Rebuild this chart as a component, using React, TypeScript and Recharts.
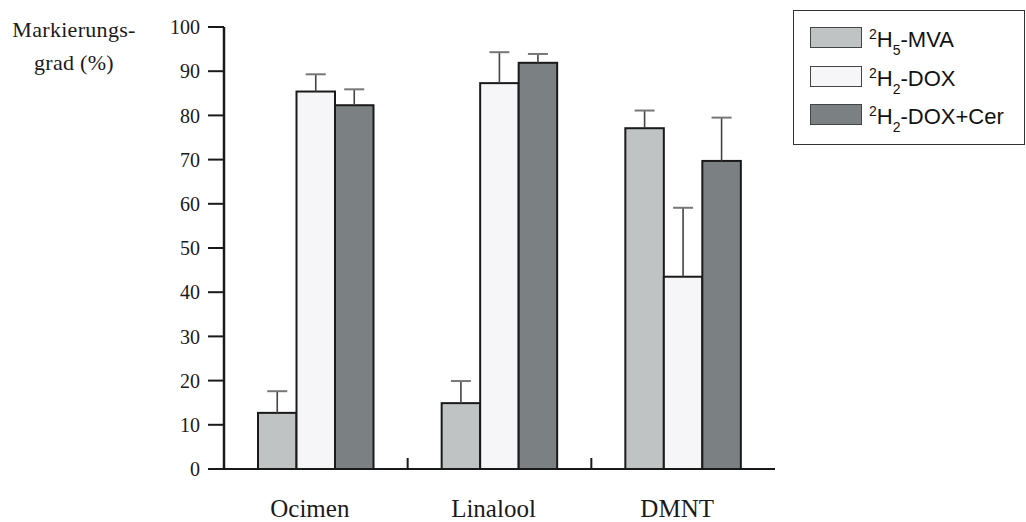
import { BarChart, Bar, XAxis, YAxis, Legend } from 'recharts';

const categories = ['Ocimen', 'Linalool', 'DMNT'];
const mvaValues = [12.7, 14.9, 77.1];
const mvaErrors = [4.9, 5.0, 4.0];
const doxValues = [85.4, 87.3, 43.5];
const doxErrors = [3.9, 7.0, 15.6];
const doxCerValues = [82.3, 91.9, 69.7];
const doxCerErrors = [3.6, 2.0, 9.8];
const yTicks = [0, 10, 20, 30, 40, 50, 60, 70, 80, 90, 100];

const series = [
  { key: 'mva', errKey: 'mvaErr', sup: '2', sub: '5', rest: '-MVA', fill: '#c0c3c4' },
  { key: 'dox', errKey: 'doxErr', sup: '2', sub: '2', rest: '-DOX', fill: '#f6f6f8' },
  { key: 'doxCer', errKey: 'doxCerErr', sup: '2', sub: '2', rest: '-DOX+Cer', fill: '#7b8183' },
];

const data = categories.map((name, i) => ({
  name,
  mva: mvaValues[i],
  mvaErr: mvaErrors[i],
  dox: doxValues[i],
  doxErr: doxErrors[i],
  doxCer: doxCerValues[i],
  doxCerErr: doxCerErrors[i],
}));

const SERIF = '"Liberation Serif", "Times New Roman", serif';
const SANS = '"Liberation Sans", Arial, sans-serif';

// bar with a one-sided (upward) error whisker
function BarWithError(props: any) {
  const { x, y, width, height, fill, payload, dataKey, errKey } = props;
  const value = payload[dataKey];
  const pxPerUnit = value ? height / value : 0;
  const errPx = payload[errKey] * pxPerUnit;
  const cx = x + width / 2;
  return (
    <g>
      <rect x={x} y={y} width={width} height={height} fill={fill} stroke="#1a1a1a" strokeWidth={2} />
      <line x1={cx} x2={cx} y1={y} y2={y - errPx} stroke="#444" strokeWidth={1.6} />
      <line x1={cx - 10} x2={cx + 10} y1={y - errPx} y2={y - errPx} stroke="#777" strokeWidth={2} />
    </g>
  );
}

function CategoryTick(props: any) {
  const { x, y, payload, index } = props;
  const half = payload.offset ?? 0;
  return (
    <g>
      <text x={x - 6} y={y + 48} textAnchor="middle" fill="#1a1a1a" fontSize={25} fontFamily={SERIF}>
        {payload.value}
      </text>
      {index < categories.length - 1 && (
        <line x1={x + half} x2={x + half} y1={y - 11} y2={y} stroke="#1a1a1a" strokeWidth={2} />
      )}
    </g>
  );
}

function LegendBox() {
  return (
    <div
      style={{
        width: 232,
        height: 135,
        border: '1.5px solid #333',
        boxSizing: 'border-box',
        padding: '16px 0 0 16px',
        fontFamily: SANS,
        color: '#111',
        background: '#fff',
      }}
    >
      {series.map((s) => (
        <div key={s.key} style={{ display: 'flex', alignItems: 'flex-start', height: 38.5 }}>
          <div style={{ width: 52, height: 21, background: s.fill, border: '1.5px solid #444', boxSizing: 'border-box' }} />
          <div style={{ marginLeft: 7, marginTop: 2, fontSize: 22, lineHeight: '21px', whiteSpace: 'nowrap' }}>
            <span style={{ fontSize: 14, position: 'relative', top: -8 }}>{s.sup}</span>
            H
            <span style={{ fontSize: 14, position: 'relative', top: 8 }}>{s.sub}</span>
            {s.rest}
          </div>
        </div>
      ))}
    </div>
  );
}

export default function App() {
  return (
    <div style={{ position: 'absolute', left: 0, top: 0, width: 1026, height: 522, background: '#fff', fontFamily: SERIF }}>
      <div
        style={{
          position: 'absolute',
          left: 0,
          top: 13,
          width: 148,
          textAlign: 'center',
          fontSize: 22,
          letterSpacing: 0.3,
          lineHeight: '33px',
          color: '#1a1a1a',
        }}
      >
        Markierungs-
        <br />
        grad (%)
      </div>
      <BarChart
        width={1026}
        height={522}
        data={data}
        margin={{ top: 27, right: 251, bottom: 0, left: 164 }}
        barGap={0}
        barSize={38.5}
      >
        <XAxis
          dataKey="name"
          height={53}
          interval={0}
          tickSize={0}
          tickMargin={0}
          tickLine={false}
          axisLine={{ stroke: '#1a1a1a', strokeWidth: 2 }}
          tick={<CategoryTick />}
        />
        <YAxis
          domain={[0, 100]}
          ticks={yTicks}
          width={60}
          tickSize={16}
          tickMargin={8}
          axisLine={{ stroke: '#1a1a1a', strokeWidth: 2.5 }}
          tickLine={{ stroke: '#1a1a1a', strokeWidth: 2 }}
          tick={{ fill: '#1a1a1a', fontSize: 20, fontFamily: SERIF }}
        />
        <Legend
          layout="vertical"
          align="center"
          verticalAlign="middle"
          wrapperStyle={{ top: 10, left: 793 }}
          content={() => <LegendBox />}
        />
        {series.map((s) => (
          <Bar
            key={s.key}
            dataKey={s.key}
            fill={s.fill}
            isAnimationActive={false}
            shape={(p: any) => <BarWithError {...p} dataKey={s.key} errKey={s.errKey} />}
          />
        ))}
      </BarChart>
    </div>
  );
}
